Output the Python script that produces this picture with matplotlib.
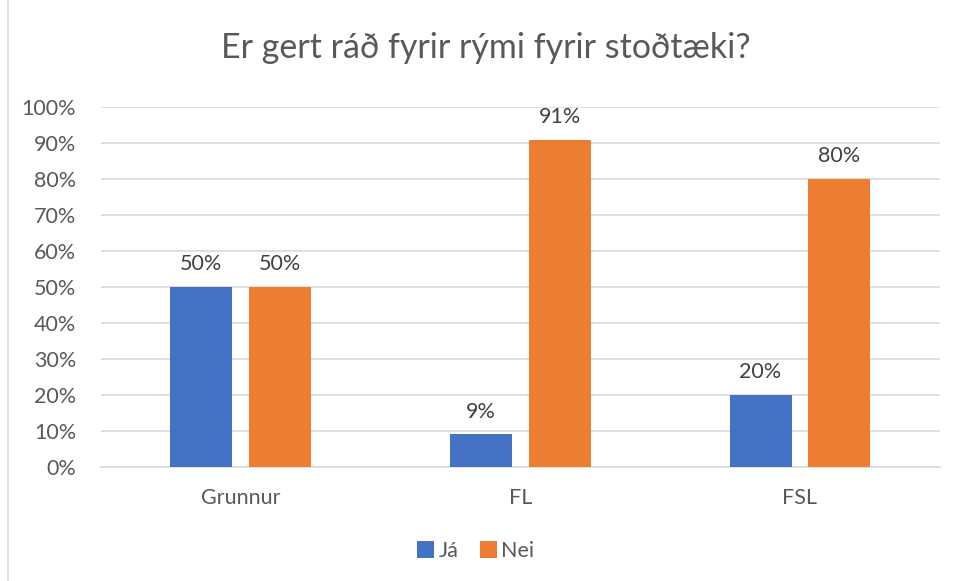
import numpy as np
import matplotlib.pyplot as plt
from matplotlib.patches import Rectangle

categories = ['Grunnur', 'FL', 'FSL']
ja = [0.50, 0.0909, 0.20]
nei = [0.50, 0.9091, 0.80]
yticks = np.arange(0, 1.01, 0.1)

blue = '#4472C4'
orange = '#ED7D31'
txt = '#595959'

plt.rcParams['font.family'] = ['Lato', 'DejaVu Sans']

fig = plt.figure(figsize=(9.57, 5.81), dpi=100)
ax = fig.add_axes([0.1055, 0.196, 0.8765, 0.62])

# chart border
fig.patches.append(Rectangle((8 / 957, -0.01), 1.0, 1.02, transform=fig.transFigure,
                             fill=False, edgecolor='#D9D9D9', lw=1.2))

x = np.arange(len(categories))
w = 0.222
off = 0.141
b1 = ax.bar(x - off, ja, w, color=blue, label='Já', zorder=3)
b2 = ax.bar(x + off, nei, w, color=orange, label='Nei', zorder=3)

for bars, vals in [(b1, ja), (b2, nei)]:
    for r, v in zip(bars, vals):
        ax.text(r.get_x() + r.get_width() / 2, v + 0.035, '%d%%' % round(v * 100),
                ha='center', va='bottom', fontsize=15.5, color='#404040')

ax.set_xlim(-0.5, 2.5)
ax.set_ylim(0, 1.0)
ax.set_yticks(yticks)
ax.set_yticklabels(['%d%%' % round(t * 100) for t in yticks])
ax.set_xticks(x)
ax.set_xticklabels(categories)
ax.tick_params(axis='both', length=0, labelsize=15.5, labelcolor=txt)
ax.tick_params(axis='y', pad=18)
ax.tick_params(axis='x', pad=15)
ax.yaxis.grid(True, color='#D9D9D9', lw=1.2, zorder=0)
for s in ['top', 'right', 'left']:
    ax.spines[s].set_visible(False)
ax.spines['bottom'].set_color('#D9D9D9')
ax.spines['bottom'].set_linewidth(1.2)

fig.suptitle('Er gert ráð fyrir rými fyrir stoðtæki?', x=0.508, y=0.945,
             fontsize=24.5, color=txt)

fig.legend(loc='center', bbox_to_anchor=(0.497, 0.052), ncol=2, frameon=False,
           fontsize=15.5, handlelength=0.8, handleheight=0.8, handletextpad=0.2,
           columnspacing=1.0, labelcolor=txt)

fig.savefig('out.png', dpi=100)
